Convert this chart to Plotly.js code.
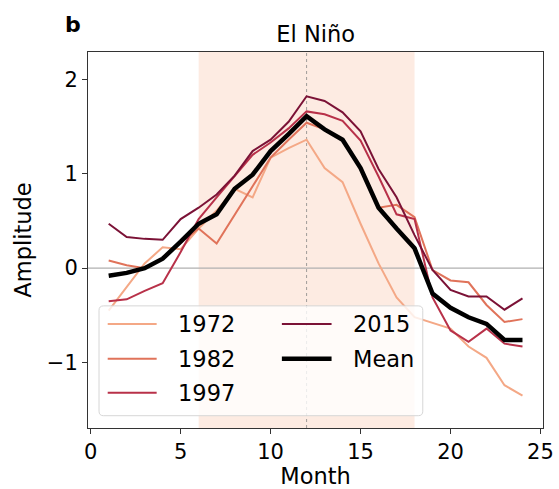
<!DOCTYPE html>
<html>
<head>
<meta charset="utf-8">
<script src="https://cdn.plot.ly/plotly-3.0.1.min.js"></script>
<style>html,body{margin:0;padding:0;background:#fff}#chart{width:559px;height:489px}</style>
</head>
<body>
<div id="chart"></div>
<script>
var months = [1,2,3,4,5,6,7,8,9,10,11,12,13,14,15,16,17,18,19,20,21,22,23,24];
var y1972 = [-0.45,-0.20,0.05,0.22,0.20,0.42,0.61,0.84,0.75,1.17,1.27,1.36,1.06,0.91,0.47,0.05,-0.31,-0.52,-0.58,-0.64,-0.83,-0.95,-1.24,-1.35];
var y1982 = [0.08,0.03,0.00,0.10,0.27,0.42,0.26,0.56,0.86,1.17,1.36,1.54,1.47,1.36,1.06,0.64,0.67,0.54,-0.02,-0.13,-0.15,-0.39,-0.57,-0.54];
var y1997 = [-0.35,-0.33,-0.24,-0.16,0.17,0.52,0.75,0.97,1.20,1.33,1.48,1.66,1.63,1.56,1.35,0.97,0.57,0.52,-0.31,-0.66,-0.78,-0.64,-0.80,-0.83];
var y2015 = [0.47,0.33,0.31,0.30,0.52,0.64,0.78,0.98,1.24,1.36,1.55,1.82,1.77,1.65,1.45,1.05,0.75,0.35,-0.02,-0.23,-0.30,-0.30,-0.44,-0.32];
var yMean = [-0.08,-0.05,0.00,0.10,0.28,0.47,0.57,0.84,0.99,1.24,1.42,1.61,1.47,1.36,1.06,0.64,0.42,0.21,-0.27,-0.42,-0.52,-0.59,-0.76,-0.76];
var seriesNames = ['1972','1982','1997','2015','Mean'];
var seriesData = [y1972, y1982, y1997, y2015, yMean];
var seriesColors = ['#f4a886','#e0735a','#b83149','#7b1236','#000000'];
var seriesWidths = [2, 2, 2, 2, 4.5];
var xTicks = [0,5,10,15,20,25];
var yTicks = [-1,0,1,2];
var peakMonth = 12, shadeStart = 6, shadeEnd = 18;

var font = 'DejaVu Sans, sans-serif';
var traces = seriesNames.map(function(n,i){
  return {x: months, y: seriesData[i], type:'scatter', mode:'lines', name:n, showlegend:false,
    line:{color:seriesColors[i], width:seriesWidths[i]}};
});

// manual two-column legend (matplotlib style, column-major)
var legBox = {x0:0.0242, x1:0.7358, y0:0.0327, y1:0.3248};
var colLineX = [[0.0433,0.1509],[0.4261,0.5353]];
var colTextX = [0.1933, 0.5776];
var rowY = [0.2769, 0.1840, 0.0937];
var rx = 0.010, ry = 0.012;
var boxPath = 'M'+(legBox.x0+rx)+','+legBox.y0+' L'+(legBox.x1-rx)+','+legBox.y0+
  ' Q'+legBox.x1+','+legBox.y0+' '+legBox.x1+','+(legBox.y0+ry)+
  ' L'+legBox.x1+','+(legBox.y1-ry)+' Q'+legBox.x1+','+legBox.y1+' '+(legBox.x1-rx)+','+legBox.y1+
  ' L'+(legBox.x0+rx)+','+legBox.y1+' Q'+legBox.x0+','+legBox.y1+' '+legBox.x0+','+(legBox.y1-ry)+
  ' L'+legBox.x0+','+(legBox.y0+ry)+' Q'+legBox.x0+','+legBox.y0+' '+(legBox.x0+rx)+','+legBox.y0+' Z';

var shapes = [
  {type:'rect', xref:'x', yref:'paper', x0:shadeStart, x1:shadeEnd, y0:0, y1:1, fillcolor:'rgba(250,190,160,0.3)', line:{width:0}, layer:'below'},
  {type:'line', xref:'paper', yref:'y', x0:0, x1:1, y0:0, y1:0, line:{color:'#b0b0b0', width:1.2}, layer:'below'},
  {type:'line', xref:'x', yref:'paper', x0:peakMonth, x1:peakMonth, y0:0, y1:1, line:{color:'#888', width:0.8, dash:'dot'}, layer:'below'},
  {type:'path', xref:'paper', yref:'paper', path:boxPath, fillcolor:'rgba(255,255,255,0.8)', line:{color:'#d6d6d6', width:1}, layer:'above'}
];
var annotations = [
  {text:'<b>b</b>', xref:'paper', yref:'paper', x:-0.033, y:1.0736, xanchor:'center', yanchor:'middle', showarrow:false, font:{family:font,size:22,color:'#000'}}
];
seriesNames.forEach(function(n,i){
  var col = Math.floor(i/3), row = i%3;
  shapes.push({type:'line', xref:'paper', yref:'paper', x0:colLineX[col][0], x1:colLineX[col][1], y0:rowY[row], y1:rowY[row],
    line:{color:seriesColors[i], width:seriesWidths[i]}, layer:'above'});
  annotations.push({text:n, xref:'paper', yref:'paper', x:colTextX[col], y:rowY[row], xanchor:'left', yanchor:'middle',
    showarrow:false, font:{family:font,size:22.5,color:'#000'}});
});

var layout = {
  width:559, height:489,
  margin:{l:88, r:15.7, t:51.7, b:60.7},
  paper_bgcolor:'#fff', plot_bgcolor:'rgba(0,0,0,0)',
  font:{family:font, size:21, color:'#000'},
  title:{text:'El Niño', font:{family:font, size:22.5, color:'#000'}, x:0.5647, xanchor:'center', y:0.9305, yanchor:'middle'},
  xaxis:{range:[-0.15,25.14], tickvals:xTicks, ticks:'outside', ticklen:5, tickwidth:1, tickcolor:'#333',
    showgrid:false, zeroline:false, showline:true, linecolor:'#333', linewidth:1, mirror:true,
    tickfont:{family:font,size:21,color:'#000'},
    title:{text:'Month', font:{family:font,size:22.5,color:'#000'}, standoff:2}},
  yaxis:{range:[-1.693,2.289], tickvals:yTicks, ticks:'outside', ticklen:5, tickwidth:1, tickcolor:'#333',
    showgrid:false, zeroline:false, showline:true, linecolor:'#333', linewidth:1, mirror:true,
    tickfont:{family:font,size:21,color:'#000'},
    title:{text:'Amplitude', font:{family:font,size:22.5,color:'#000'}, standoff:8}},
  shapes: shapes,
  annotations: annotations,
  showlegend:false
};
Plotly.newPlot('chart', traces, layout, {displayModeBar:false, staticPlot:true});
</script>
</body>
</html>
